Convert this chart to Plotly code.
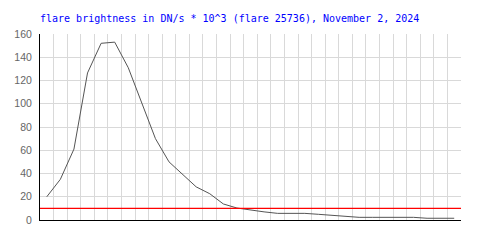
import plotly.graph_objects as go

# Data
sample_index = list(range(31))
brightness = [20, 35, 61, 126.5, 152, 153, 131, 101, 70, 50, 39, 28.5, 22.6, 13.8,
              10.3, 8.4, 7.0, 5.7, 5.7, 5.7, 4.9, 4.0, 3.2, 2.3, 2.3, 2.3, 2.3, 2.3,
              1.5, 1.5, 1.5]
threshold = 10
y_ticks = [0, 20, 40, 60, 80, 100, 120, 140, 160]
title_text = "flare brightness in DN/s * 10^3 (flare 25736), November 2, 2024"

fig = go.Figure()
fig.add_trace(go.Scatter(
    x=sample_index, y=brightness, mode="lines",
    line=dict(color="#555555", width=1), hoverinfo="skip", showlegend=False,
))
fig.add_trace(go.Scatter(
    x=[-0.5, len(sample_index) - 0.5], y=[threshold, threshold], mode="lines",
    line=dict(color="#ff0000", width=1.3), hoverinfo="skip", showlegend=False,
))

fig.update_layout(
    width=500, height=250,
    margin=dict(l=40, r=39, t=34, b=30),
    paper_bgcolor="white", plot_bgcolor="white",
    title=dict(
        text=title_text, x=40 / 500, xref="container", xanchor="left",
        y=1 - 18.3 / 250, yref="container", yanchor="middle",
        font=dict(family="DejaVu Sans Mono", size=10, color="#0000ff"),
    ),
    xaxis=dict(
        range=[-0.5, len(sample_index) - 0.5], tick0=-0.5, dtick=1,
        showticklabels=False, showgrid=True, gridcolor="#d9d9d9", gridwidth=1,
        showline=True, linecolor="black", linewidth=1, zeroline=False, ticks="",
    ),
    yaxis=dict(
        range=[0, 160], tickvals=y_ticks, showgrid=True, gridcolor="#d9d9d9",
        gridwidth=1, showline=True, linecolor="black", linewidth=1, zeroline=False,
        ticks="", ticklabelstandoff=5,
        tickfont=dict(family="Liberation Sans, Arial", size=10.5, color="#666666"),
    ),
)

fig.write_html("out.html")
